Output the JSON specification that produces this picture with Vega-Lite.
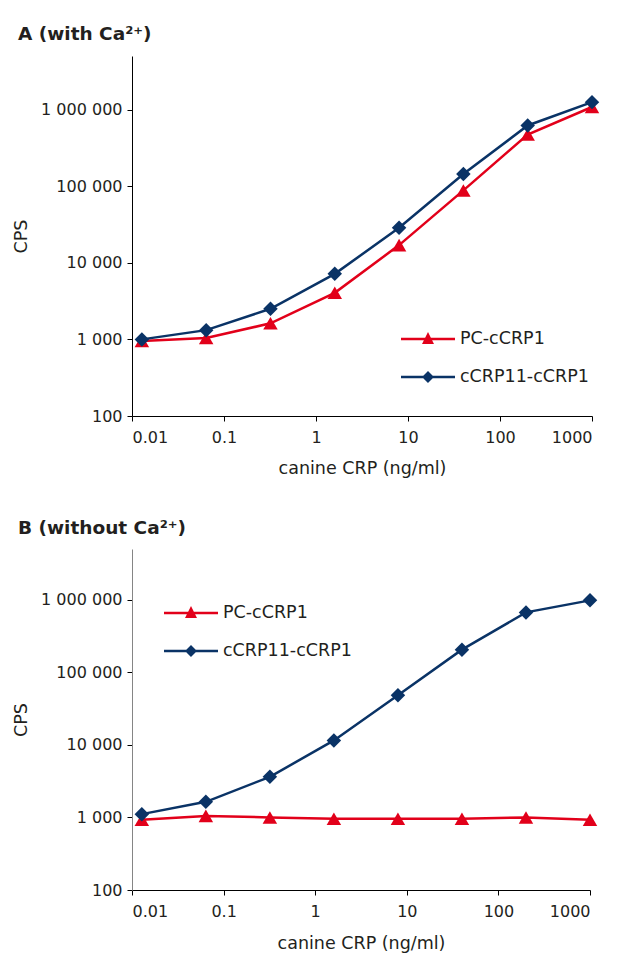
{
  "$schema": "https://vega.github.io/schema/vega-lite/v6.json",
  "background": "white",
  "padding": {"left": 12, "top": 24, "right": 10, "bottom": 10},
  "datasets": {
    "assay": [
      {"panel": "A", "series": "PC-cCRP1", "conc": 0.0128, "cps": 950},
      {"panel": "A", "series": "PC-cCRP1", "conc": 0.064, "cps": 1040},
      {"panel": "A", "series": "PC-cCRP1", "conc": 0.32, "cps": 1620},
      {"panel": "A", "series": "PC-cCRP1", "conc": 1.6, "cps": 4050},
      {"panel": "A", "series": "PC-cCRP1", "conc": 8, "cps": 17000},
      {"panel": "A", "series": "PC-cCRP1", "conc": 40, "cps": 88000},
      {"panel": "A", "series": "PC-cCRP1", "conc": 200, "cps": 472000},
      {"panel": "A", "series": "PC-cCRP1", "conc": 1000, "cps": 1080000},
      {"panel": "A", "series": "cCRP11-cCRP1", "conc": 0.0128, "cps": 1000},
      {"panel": "A", "series": "cCRP11-cCRP1", "conc": 0.064, "cps": 1320},
      {"panel": "A", "series": "cCRP11-cCRP1", "conc": 0.32, "cps": 2510},
      {"panel": "A", "series": "cCRP11-cCRP1", "conc": 1.6, "cps": 7170},
      {"panel": "A", "series": "cCRP11-cCRP1", "conc": 8, "cps": 28600},
      {"panel": "A", "series": "cCRP11-cCRP1", "conc": 40, "cps": 144000},
      {"panel": "A", "series": "cCRP11-cCRP1", "conc": 200, "cps": 620000},
      {"panel": "A", "series": "cCRP11-cCRP1", "conc": 1000, "cps": 1250000},
      {"panel": "B", "series": "PC-cCRP1", "conc": 0.0128, "cps": 930},
      {"panel": "B", "series": "PC-cCRP1", "conc": 0.064, "cps": 1050},
      {"panel": "B", "series": "PC-cCRP1", "conc": 0.32, "cps": 1000},
      {"panel": "B", "series": "PC-cCRP1", "conc": 1.6, "cps": 960},
      {"panel": "B", "series": "PC-cCRP1", "conc": 8, "cps": 960},
      {"panel": "B", "series": "PC-cCRP1", "conc": 40, "cps": 960},
      {"panel": "B", "series": "PC-cCRP1", "conc": 200, "cps": 1000},
      {"panel": "B", "series": "PC-cCRP1", "conc": 1000, "cps": 930},
      {"panel": "B", "series": "cCRP11-cCRP1", "conc": 0.0128, "cps": 1110},
      {"panel": "B", "series": "cCRP11-cCRP1", "conc": 0.064, "cps": 1640},
      {"panel": "B", "series": "cCRP11-cCRP1", "conc": 0.32, "cps": 3630},
      {"panel": "B", "series": "cCRP11-cCRP1", "conc": 1.6, "cps": 11500},
      {"panel": "B", "series": "cCRP11-cCRP1", "conc": 8, "cps": 48300},
      {"panel": "B", "series": "cCRP11-cCRP1", "conc": 40, "cps": 205000},
      {"panel": "B", "series": "cCRP11-cCRP1", "conc": 200, "cps": 669000},
      {"panel": "B", "series": "cCRP11-cCRP1", "conc": 1000, "cps": 980000}
    ]
  },
  "config": {
    "font": "DejaVu Sans",
    "locale": {"number": {"decimal": ".", "thousands": " ", "grouping": [3], "currency": ["", ""]}},
    "view": {"stroke": null},
    "axis": {
      "grid": false,
      "labelFont": "DejaVu Sans",
      "labelFontSize": 16,
      "labelColor": "#231f20",
      "titleFont": "DejaVu Sans",
      "titleFontSize": 17.5,
      "titleFontWeight": "normal",
      "titleColor": "#231f20",
      "domainColor": "#000000",
      "tickColor": "#000000",
      "tickSize": 5
    },
    "legend": {
      "labelFont": "DejaVu Sans",
      "labelFontSize": 17.5,
      "labelColor": "#231f20",
      "labelLimit": 300
    },
    "title": {"anchor": "start", "frame": "group", "fontSize": 18.5, "fontWeight": "bold", "color": "#231f20", "font": "DejaVu Sans"}
  },
  "spacing": 41,
  "vconcat": [
    {
      "title": {"text": "A (with Ca²⁺)", "dx": -114, "offset": 13},
      "width": 460,
      "height": 360,
      "data": {"name": "assay"},
      "transform": [{"filter": "datum.panel === 'A'"}],
      "encoding": {
        "x": {
          "field": "conc", "type": "quantitative",
          "scale": {"type": "log", "domain": [0.01, 1000], "nice": false},
          "axis": {"values": [0.01, 0.1, 1, 10, 100, 1000], "format": "~g", "title": "canine CRP (ng/ml)", "labelPadding": 8, "titlePadding": 14}
        },
        "y": {
          "field": "cps", "type": "quantitative",
          "scale": {"type": "log", "domain": [100, 5000000], "nice": false},
          "axis": {"values": [100, 1000, 10000, 100000, 1000000], "format": ",d", "title": "CPS", "titlePadding": 10, "labelPadding": 5}
        }
      },
      "layer": [
        {
          "mark": {"type": "line", "strokeWidth": 2.5},
          "encoding": {
            "color": {"field": "series", "type": "nominal", "scale": {"domain": ["PC-cCRP1", "cCRP11-cCRP1"], "range": ["#e2001a", "#0a3366"]}, "legend": null}
          }
        },
        {
          "mark": {"type": "point", "filled": true, "opacity": 1, "size": 210},
          "encoding": {
            "color": {"field": "series", "type": "nominal", "scale": {"domain": ["PC-cCRP1", "cCRP11-cCRP1"], "range": ["#e2001a", "#0a3366"]}, "legend": null},
            "shape": {"field": "series", "type": "nominal", "scale": {"domain": ["PC-cCRP1", "cCRP11-cCRP1"], "range": ["triangle-up", "diamond"]}, "legend": null}
          }
        },
        {
          "transform": [{"filter": "false"}],
          "mark": {"type": "point", "filled": true, "opacity": 1},
          "encoding": {
            "color": {
              "field": "series", "type": "nominal",
              "scale": {"domain": ["PC-cCRP1", "cCRP11-cCRP1"], "range": ["#e2001a", "#0a3366"]},
              "legend": {"orient": "none", "legendX": 269, "legendY": 256, "title": null, "symbolSize": 2916, "symbolStrokeWidth": 0, "labelOffset": 5, "padding": 0}
            },
            "shape": {
              "field": "series", "type": "nominal",
              "scale": {"domain": ["PC-cCRP1", "cCRP11-cCRP1"], "range": ["M-1,-0.048L1,-0.048L1,0.048L-1,0.048Z M0,-0.26L0.222,0.185L-0.222,0.185Z", "M-1,-0.048L1,-0.048L1,0.048L-1,0.048Z M0,-0.222L0.222,0L0,0.222L-0.222,0Z"]},
              "legend": {"orient": "none", "legendX": 269, "legendY": 256, "title": null, "symbolSize": 2916, "symbolStrokeWidth": 0, "labelOffset": 5, "padding": 0}
            }
          }
        }
      ],
      "resolve": {"scale": {"shape": "independent", "color": "independent"}}
    },
    {
      "title": {"text": "B (without Ca²⁺)", "dx": -114, "offset": 12},
      "width": 458,
      "height": 341,
      "data": {"name": "assay"},
      "transform": [{"filter": "datum.panel === 'B'"}],
      "encoding": {
        "x": {
          "field": "conc", "type": "quantitative",
          "scale": {"type": "log", "domain": [0.01, 1000], "nice": false},
          "axis": {"values": [0.01, 0.1, 1, 10, 100, 1000], "format": "~g", "title": "canine CRP (ng/ml)", "labelPadding": 8, "titlePadding": 15}
        },
        "y": {
          "field": "cps", "type": "quantitative",
          "scale": {"type": "log", "domain": [100, 5000000], "nice": false},
          "axis": {"values": [100, 1000, 10000, 100000, 1000000], "format": ",d", "title": "CPS", "titlePadding": 10, "labelPadding": 5, "domainColor": "#858585"}
        }
      },
      "layer": [
        {
          "mark": {"type": "line", "strokeWidth": 2.5},
          "encoding": {
            "color": {"field": "series", "type": "nominal", "scale": {"domain": ["PC-cCRP1", "cCRP11-cCRP1"], "range": ["#e2001a", "#0a3366"]}, "legend": null}
          }
        },
        {
          "mark": {"type": "point", "filled": true, "opacity": 1, "size": 210},
          "encoding": {
            "color": {"field": "series", "type": "nominal", "scale": {"domain": ["PC-cCRP1", "cCRP11-cCRP1"], "range": ["#e2001a", "#0a3366"]}, "legend": null},
            "shape": {"field": "series", "type": "nominal", "scale": {"domain": ["PC-cCRP1", "cCRP11-cCRP1"], "range": ["triangle-up", "diamond"]}, "legend": null}
          }
        },
        {
          "transform": [{"filter": "false"}],
          "mark": {"type": "point", "filled": true, "opacity": 1},
          "encoding": {
            "color": {
              "field": "series", "type": "nominal",
              "scale": {"domain": ["PC-cCRP1", "cCRP11-cCRP1"], "range": ["#e2001a", "#0a3366"]},
              "legend": {"orient": "none", "legendX": 32, "legendY": 37, "title": null, "symbolSize": 2916, "symbolStrokeWidth": 0, "labelOffset": 5, "padding": 0}
            },
            "shape": {
              "field": "series", "type": "nominal",
              "scale": {"domain": ["PC-cCRP1", "cCRP11-cCRP1"], "range": ["M-1,-0.048L1,-0.048L1,0.048L-1,0.048Z M0,-0.26L0.222,0.185L-0.222,0.185Z", "M-1,-0.048L1,-0.048L1,0.048L-1,0.048Z M0,-0.222L0.222,0L0,0.222L-0.222,0Z"]},
              "legend": {"orient": "none", "legendX": 32, "legendY": 37, "title": null, "symbolSize": 2916, "symbolStrokeWidth": 0, "labelOffset": 5, "padding": 0}
            }
          }
        }
      ],
      "resolve": {"scale": {"shape": "independent", "color": "independent"}}
    }
  ]
}
